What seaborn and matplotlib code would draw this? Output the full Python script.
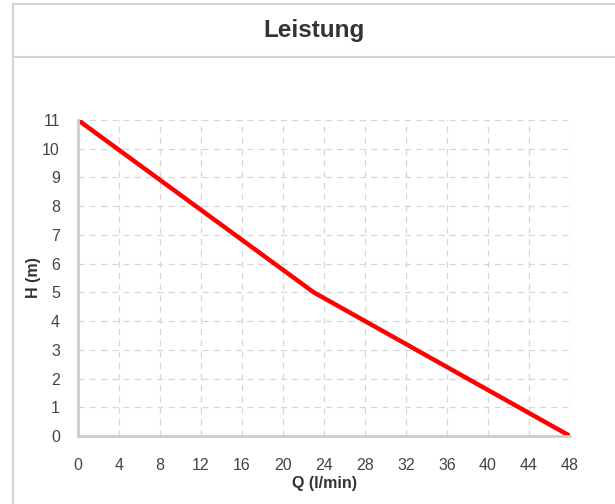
import seaborn as sns
import matplotlib.pyplot as plt
import pandas as pd
from matplotlib.patches import Rectangle
from matplotlib.lines import Line2D

# Daten der Kennlinie (Förderstrom Q in l/min, Förderhöhe H in m)
q_werte = [0, 23, 48]
h_werte = [11, 5, 0]
x_ticks = list(range(0, 49, 4))
y_ticks = list(range(0, 12))

titel = "Leistung"
x_label = "Q (l/min)"
y_label = "H (m)"

daten = pd.DataFrame({"Q": q_werte, "H": h_werte})

sns.set_style("white")
plt.rcParams['font.family'] = ['Liberation Sans', 'DejaVu Sans']

fig = plt.figure(figsize=(6.15, 5.04), dpi=100)
W, H = 615, 504

# Rahmen und Kopfzeile
fig.patches.append(Rectangle((13 / W, -0.1), 1.2, 1 - 4 / H + 0.1,
                             transform=fig.transFigure, fill=False,
                             edgecolor="#d4d4d4", linewidth=1.5))
fig.lines.append(Line2D([13 / W, 1.0], [1 - 57 / H, 1 - 57 / H],
                        transform=fig.transFigure, color="#d4d4d4", linewidth=1.5))
fig.text(314 / W, 1 - 31 / H, titel, ha="center", va="center",
         fontsize=17.5, fontweight="bold", color="#333333")

ax = fig.add_axes([78 / W, 1 - 436 / H, (570 - 78) / W, (436 - 120) / H])

sns.lineplot(data=daten, x="Q", y="H", ax=ax, color="#ff0000", linewidth=3.2)

ax.set_xlim(0, 48)
ax.set_ylim(0, 11)
ax.set_xticks(x_ticks)
ax.set_yticks(y_ticks)
ax.grid(True, linestyle=(0, (5, 4)), color="#d3d8dd", linewidth=0.9)
ax.set_axisbelow(True)

for s in ["top", "right"]:
    ax.spines[s].set_visible(False)
for s in ["left", "bottom"]:
    ax.spines[s].set_color("#cccccc")
    ax.spines[s].set_linewidth(2)

ax.tick_params(axis="x", length=8, width=1, color="#cccccc", pad=8,
               labelsize=11.5, labelcolor="#444444")
ax.tick_params(axis="y", length=11, width=1, color="#cccccc", pad=2,
               labelsize=11.5, labelcolor="#444444")

ax.set_xlabel(x_label, fontsize=11.5, fontweight="bold", color="#333333")
ax.set_ylabel(y_label, fontsize=11.5, fontweight="bold", color="#333333")
ax.xaxis.set_label_coords(0.5, -0.128)
ax.yaxis.set_label_coords(-0.075, 0.5)

fig.savefig("out.png", dpi=100)
